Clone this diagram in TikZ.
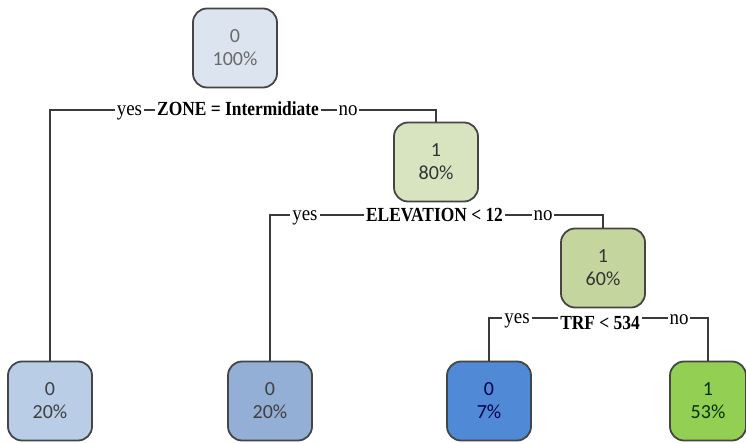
\documentclass[tikz,border=0pt]{standalone}
\usepackage{fontspec}
\setmainfont{Liberation Serif}
\newfontfamily\boxfont{Carlito}
\newfontfamily\labelfont[FakeStretch=0.9]{Liberation Serif}
\newfontfamily\condfont[FakeStretch=0.87]{Liberation Serif Bold}
\usepackage{tikz}
\usetikzlibrary{positioning}

\definecolor{boxline}{HTML}{454545}
\definecolor{wire}{HTML}{3A3A3A}
\definecolor{rootfill}{HTML}{DCE4EF}
\definecolor{palegreen}{HTML}{D8E4BF}
\definecolor{midgreen}{HTML}{C4D69E}
\definecolor{lightblue}{HTML}{B9CDE6}
\definecolor{midblue}{HTML}{93AFD5}
\definecolor{deepblue}{HTML}{5089D6}
\definecolor{brightgreen}{HTML}{92CF52}
\definecolor{greytext}{HTML}{6A6A6A}

\begin{document}
\begin{tikzpicture}[
	x=1pt, y=-1pt,
	line width=1.4pt
]
\tikzset{
    leafbox/.style = {rectangle, rounded corners=14pt, draw=boxline, line width=1.8pt, align=center,
        minimum width=84pt, minimum height=79pt, font=\boxfont\fontsize{20}{23}\selectfont},
    edgetext/.style = {fill=white, inner sep=2pt, anchor=base, font=\labelfont\fontsize{21}{22}\selectfont},
    condtext/.style = {fill=white, inner sep=2pt, anchor=base, font=\condfont\fontsize{20}{22}\selectfont}
}
\useasboundingbox (0,0) rectangle (746,443);

% boxes
\node[leafbox,fill=rootfill,text=greytext] (root) at (235,48) {0\\100\%};
\node[leafbox,fill=palegreen,text=black!80] (n80) at (436,162) {1\\80\%};
\node[leafbox,fill=midgreen,text=black!80] (n60) at (603,268) {1\\60\%};
\node[leafbox,fill=lightblue,text=black!75] (leafa) at (50,401) {0\\20\%};
\node[leafbox,fill=midblue,text=black!75] (leafb) at (270,401) {0\\20\%};
\node[leafbox,fill=deepblue,text=blue!30!black] (leafc) at (489,401) {0\\7\%};
\node[leafbox,fill=brightgreen,text=green!20!black,minimum width=76pt] (leafd) at (708,401) {1\\53\%};

% splits
\coordinate (splita) at (240,110);
\coordinate (splitb) at (435,215);
\coordinate (splitc) at (600,318);
\draw[wire] (leafa.north) |- (splita) -| (n80.north);
\draw[wire] (leafb.north) |- (splitb) -| (n60.north);
\draw[wire] (leafc.north) |- (splitc) -| (leafd.north);

\node[edgetext] (yesa) at (129.5,116) {yes};
\node[condtext] (conda) at (238,116) {ZONE = Intermidiate};
\node[edgetext] (noa) at (348,116) {no};

\node[edgetext] (yesb) at (305,221) {yes};
\node[condtext] (condb) at (434.5,222) {ELEVATION < 12};
\node[edgetext] (nob) at (543,221) {no};

\node[edgetext] (yesc) at (517,323) {yes};
\node[condtext] (condc) at (600,329) {TRF < 534};
\node[edgetext] (noc) at (679,324) {no};
\end{tikzpicture}
\end{document}
